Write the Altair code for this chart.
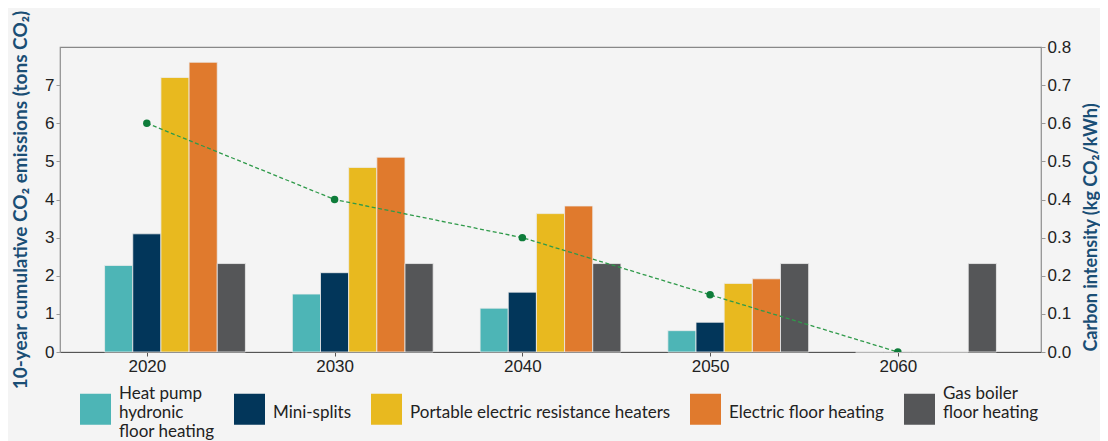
import altair as alt
import pandas as pd

years = [2020, 2030, 2040, 2050, 2060]
categories = [
    "Heat pump hydronic floor heating",
    "Mini-splits",
    "Portable electric resistance heaters",
    "Electric floor heating",
    "Gas boiler floor heating",
]
colors = ["#4db5b6", "#02365a", "#e8b91f", "#e07a2d", "#555658"]

heat_pump = [2.27, 1.52, 1.15, 0.56, 0.0]
mini_splits = [3.10, 2.08, 1.57, 0.78, 0.0]
portable = [7.20, 4.84, 3.63, 1.80, 0.0]
electric_floor = [7.60, 5.11, 3.83, 1.92, 0.0]
gas_boiler = [2.32, 2.32, 2.32, 2.32, 2.32]

carbon_intensity = [0.60, 0.40, 0.30, 0.15, 0.00]

series = [heat_pump, mini_splits, portable, electric_floor, gas_boiler]
bar_w = 1.5
rows = []
for i, (cat, vals) in enumerate(zip(categories, series)):
    for y, v in zip(years, vals):
        c = y + (i - 1) * bar_w
        rows.append({"category": cat, "year": y, "x0": c - bar_w / 2, "x1": c + bar_w / 2, "value": v, "order": i})
bars_df = pd.DataFrame(rows)
line_df = pd.DataFrame({"year": years, "ci": carbon_intensity})

xscale = alt.Scale(domain=[2015.375, 2067.625], nice=False, zero=False)
ylscale = alt.Scale(domain=[0, 8], nice=False)
yrscale = alt.Scale(domain=[0, 0.8], nice=False)

label_expr = (
    "datum.label == 'Heat pump hydronic floor heating' ? ['Heat pump', 'hydronic', 'floor heating'] : "
    "datum.label == 'Gas boiler floor heating' ? ['Gas boiler', 'floor heating', ''] : "
    "['', datum.label, '']"
)

x_axis = alt.Axis(values=years, format="d", title=None, grid=False, tickSize=4,
                  labelFont="Liberation Sans", labelFontSize=17, labelColor="#222",
                  domainColor="#555", tickColor="#555", labelPadding=2)

yr_axis = alt.Axis(orient="right", values=[0, 0.1, 0.2, 0.3, 0.4, 0.5, 0.6, 0.7, 0.8], format=".1f",
                   grid=False, tickSize=4,
                   title="Carbon intensity (kg CO₂/kWh)",
                   titleFont="Lato", titleFontSize=18, titleFontWeight="bold", titleColor="#1a4e75",
                   titleAngle=270, titleX=50, titleY=180, titleBaseline="middle", titleAlign="center",
                   labelFont="Liberation Sans", labelFontSize=17, labelColor="#222",
                   domainColor="#999", tickColor="#999", labelPadding=2)

bars = alt.Chart(bars_df).mark_rect(stroke="#ececec", strokeWidth=0.8).encode(
    x=alt.X("x0:Q", scale=xscale, axis=x_axis),
    x2="x1:Q",
    y=alt.Y("value:Q", scale=ylscale,
            axis=alt.Axis(values=[0, 1, 2, 3, 4, 5, 6, 7], orient="left", grid=False, tickSize=4,
                          title="10-year cumulative CO₂ emissions (tons CO₂)",
                          titleFont="Lato", titleFontSize=19, titleFontWeight="bold", titleColor="#1a4e75",
                          titleX=-40, titleBaseline="middle",
                          labelFont="Liberation Sans", labelFontSize=17, labelColor="#222",
                          domainColor="#999", tickColor="#999", labelPadding=2)),
    y2=alt.datum(0),
    color=alt.Color("category:N", scale=alt.Scale(domain=categories, range=colors),
                    legend=alt.Legend(orient="none", legendX=20, legendY=331, direction="horizontal",
                                      title=None, symbolType="M-1,0H1V2H-1Z", symbolSize=961,
                                      symbolStrokeWidth=0, symbolOpacity=1,
                                      labelFont="Lato", labelFontSize=17, labelColor="#222",
                                      labelOffset=8, columnPadding=19, labelLimit=400,
                                      padding=0, labelExpr=label_expr)),
    order="order:Q",
)

line = alt.Chart(line_df).mark_line(color="#2f9a4a", strokeWidth=1.3, strokeDash=[4, 2.5]).encode(
    x=alt.X("year:Q", scale=xscale, axis=x_axis),
    y=alt.Y("ci:Q", scale=yrscale, axis=yr_axis),
)

points = alt.Chart(line_df).mark_circle(color="#0e7c3a", size=56, opacity=1, clip=True).encode(
    x=alt.X("year:Q", scale=xscale, axis=x_axis),
    y=alt.Y("ci:Q", scale=yrscale, axis=yr_axis),
)

chart = alt.layer(bars, line + points).resolve_scale(y="independent").properties(
    width=981, height=305,
    background="#f4f4f4",
    autosize=alt.AutoSizeParams(type="none"),
    padding={"left": 52, "top": 39, "right": 59, "bottom": 94},
).configure_view(stroke="#888", strokeWidth=1.2)

chart.save("out.html", embed_options={"renderer": "svg", "actions": False})
